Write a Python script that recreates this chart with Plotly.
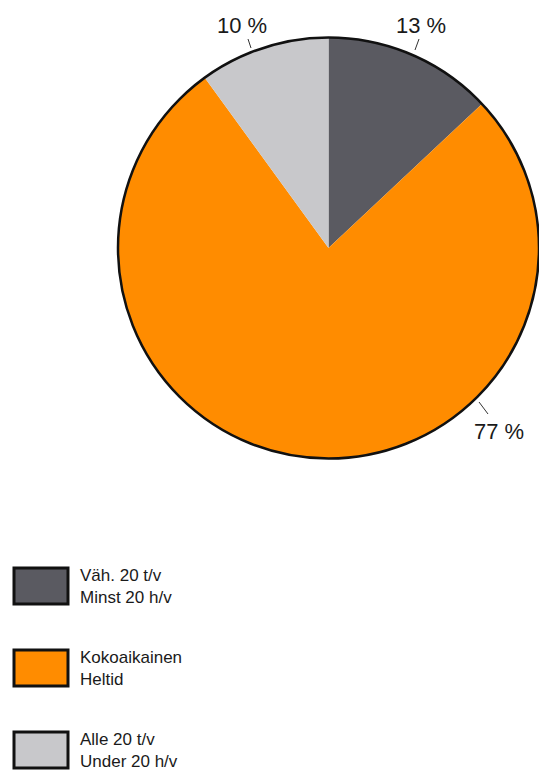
import plotly.graph_objects as go

# ---- data ----
categories = ["Väh. 20 t/v<br>Minst 20 h/v", "Kokoaikainen<br>Heltid", "Alle 20 t/v<br>Under 20 h/v"]
values = [13, 77, 10]
colors = ["#5a5a61", "#ff8c00", "#c8c8cb"]

W, H = 539, 772

def px(x):
    return x / W

def py(y):
    return 1 - y / H

# pie geometry (reference pixels)
cx, cy, r = 330, 248, 212
dom_x = [px(cx - r), min(1.0, px(cx + r))]
dom_y = [py(cy + r), py(cy - r)]

fig = go.Figure()
fig.add_trace(go.Pie(
    values=values, labels=categories, sort=False, direction="clockwise", rotation=0,
    marker=dict(colors=colors, line=dict(width=0)),
    textinfo="none", hoverinfo="label+value", domain=dict(x=dom_x, y=dom_y),
))
# outer outline
fig.add_trace(go.Pie(
    values=[1], labels=["outline"], sort=False, textinfo="none", hoverinfo="skip",
    marker=dict(colors=["rgba(0,0,0,0)"], line=dict(color="#111111", width=2.5)),
    domain=dict(x=dom_x, y=dom_y),
))

font_fam = "Liberation Sans, Arial, Helvetica, sans-serif"

# percentage labels with short leader ticks
label_pos = [(421, 25, (419, 39), (415, 50)),
             (499, 431, (488, 414), (479, 402)),
             (242, 25, (248, 39), (251, 48))]
shapes = []
annotations = []
for v, (tx, ty, p0, p1) in zip(values, label_pos):
    annotations.append(dict(x=px(tx), y=py(ty), xref="paper", yref="paper",
                            text=f"{v} %", showarrow=False,
                            font=dict(size=22, color="#1a1a1a", family=font_fam),
                            xanchor="center", yanchor="middle"))
    shapes.append(dict(type="line", xref="paper", yref="paper",
                       x0=px(p0[0]), y0=py(p0[1]), x1=px(p1[0]), y1=py(p1[1]),
                       line=dict(color="#333333", width=1)))

# legend boxes + text
leg_centers = [586, 668, 750]
for cat, col, yc in zip(categories, colors, leg_centers):
    shapes.append(dict(type="rect", xref="paper", yref="paper",
                       x0=px(14), x1=px(68), y0=py(yc + 18), y1=py(yc - 18),
                       fillcolor=col, line=dict(color="#111111", width=3)))
    annotations.append(dict(x=px(78), y=py(yc), xref="paper", yref="paper",
                            text=cat, showarrow=False, align="left",
                            xanchor="left", yanchor="middle",
                            font=dict(size=17, color="#1a1a1a", family=font_fam)))

fig.update_layout(
    width=W, height=H, margin=dict(l=0, r=0, t=0, b=0),
    paper_bgcolor="white", plot_bgcolor="white",
    showlegend=False, shapes=shapes, annotations=annotations,
)

fig.write_html("out.html", config={"displayModeBar": False},
               post_script="document.body.style.margin='0';document.body.style.overflow='hidden';")
